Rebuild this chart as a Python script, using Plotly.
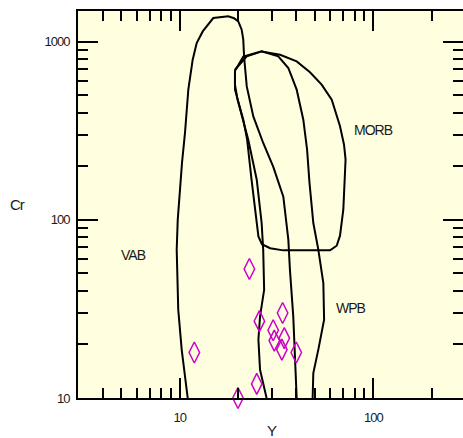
import math
import plotly.graph_objects as go

# Sample analyses (ppm)
sample_y = [11.9, 22.9, 25.8, 34.0, 30.4, 30.8, 34.7, 33.7, 40.0, 25.0, 20.0]
sample_cr = [18.0, 53.0, 27.0, 30.0, 24.0, 21.0, 21.7, 18.7, 18.0, 12.0, 10.0]

# Field boundaries of the Cr-Y discrimination diagram
vab_y = [11.0, 10.24, 9.83, 9.65, 9.77, 10.03, 10.28, 10.65, 11.08, 11.67, 12.24,
         13.15, 14.91, 17.82, 19.08, 20.07, 20.9, 21.3, 21.5, 22.2, 24.0, 27.0,
         30.4, 34.3, 36.4, 37.1, 38.6, 40.2]
vab_cr = [10, 18.7, 31.3, 68.0, 100.2, 147.7, 209.4, 307.4, 537.8, 792.5, 983,
          1142, 1358, 1387, 1355, 1300, 1168, 1026, 827, 561, 381, 270,
          199, 135, 77.4, 52.5, 28.7, 10]

morb_y = [19.3, 19.3, 21.3, 22.3, 23.5, 25.0, 25.5, 26.6, 29.3, 34.3, 59.8, 64.7,
          67.3, 70.0, 71.4, 71.9, 70.6, 67.3, 61.0, 54.1, 47.1, 40.2, 33.0, 26.5,
          22.2, 19.3]
morb_cr = [696, 538, 365, 282, 168, 100, 80.7, 73.0, 69.3, 67.4, 67.4, 71.6,
           81.5, 114, 168, 218, 264, 335, 473, 574, 674, 775, 845, 882,
           827, 696]

wpb_y = [28.1, 26.0, 25.5, 26.0, 27.3, 27.0, 26.5, 25.0, 22.6, 21.2, 19.9, 19.3,
         19.3, 21.3, 26.5, 32.3, 36.4, 40.2, 43.5, 45.5, 46.8, 49.0, 52.0, 55.2,
         55.7, 52.0, 49.0, 48.6]
wpb_cr = [10, 14.4, 21.3, 28.7, 40.5, 68.0, 96.0, 168, 282, 365, 473, 574,
          687, 824, 882, 827, 712, 538, 365, 248, 162, 96.0, 68.0, 44.2,
          27.5, 18.7, 13.8, 10]

# Field names and where they sit
field_names = ["MORB", "VAB", "WPB"]
field_label_y = [100.8, 5.76, 76.4]
field_label_cr = [321, 63.7, 32.1]

x_ticks = [10, 100]
y_ticks = [10, 100, 1000]

FONT = "Liberation Sans, Arial, sans-serif"
TEXT = "#1a1a1a"


def tight(s):
    """Condensed lettering via negative letter spacing."""
    return f"<span style='letter-spacing:-1px'>{s}</span>"


fig = go.Figure()

for xs, ys in [(vab_y, vab_cr), (morb_y, morb_cr), (wpb_y, wpb_cr)]:
    fig.add_trace(go.Scatter(
        x=xs, y=ys, mode="lines",
        line=dict(color="black", width=2),
        hoverinfo="skip", showlegend=False,
    ))

fig.add_trace(go.Scatter(
    x=sample_y, y=sample_cr, mode="markers",
    marker=dict(symbol="diamond-tall-open", size=15,
                color="#CC00CC", line=dict(color="#CC00CC", width=1.5)),
    cliponaxis=False, showlegend=False,
))

# Invisible companion so the mirrored right-hand axis is rendered
fig.add_trace(go.Scatter(x=[10], y=[100], yaxis="y2", mode="markers",
                         marker=dict(opacity=0), showlegend=False,
                         hoverinfo="skip"))

# Field labels (annotation positions on log axes are given in log10 units)
for name, xv, yv in zip(field_names, field_label_y, field_label_cr):
    fig.add_annotation(x=math.log10(xv), y=math.log10(yv), xref="x", yref="y",
                       text=tight(name), showarrow=False,
                       xanchor="center", yanchor="middle",
                       font=dict(family=FONT, size=14, color=TEXT))

# Axis titles
fig.add_annotation(x=-0.156, y=0.499, xref="paper", yref="paper", text=tight("Cr"),
                   showarrow=False, xanchor="center", yanchor="middle",
                   font=dict(family=FONT, size=15, color=TEXT))
fig.add_annotation(x=0.503, y=-0.084, xref="paper", yref="paper", text=tight("Y"),
                   showarrow=False, xanchor="center", yanchor="middle",
                   font=dict(family=FONT, size=15, color=TEXT))

tick_common = dict(
    ticks="inside", ticklen=20, tickwidth=2, tickcolor="black",
    showgrid=False, zeroline=False,
    minor=dict(ticks="inside", ticklen=10, tickwidth=2, tickcolor="black",
               dtick="D1", showgrid=False),
)

fig.update_layout(
    width=463, height=438,
    margin=dict(l=78, r=0, t=11, b=40),
    paper_bgcolor="white",
    plot_bgcolor="#FFFFE0",
    font=dict(family=FONT, size=13, color=TEXT),
    xaxis=dict(
        type="log", range=[0.4747, 2.4633],
        tickvals=x_ticks, ticktext=[tight(v) for v in x_ticks],
        showline=True, linecolor="black", linewidth=2, mirror="ticks",
        ticklabelstandoff=6,
        **tick_common,
    ),
    yaxis=dict(
        type="log", range=[1, 3.1723],
        tickvals=y_ticks, ticktext=[tight(v) for v in y_ticks],
        showline=True, linecolor="black", linewidth=2,
        ticklabelstandoff=4,
        **tick_common,
    ),
    yaxis2=dict(
        type="log", range=[1, 3.1723], overlaying="y", side="right",
        matches="y", tickvals=y_ticks, showticklabels=False, showline=False,
        **tick_common,
    ),
)

fig.write_html("out.html")
